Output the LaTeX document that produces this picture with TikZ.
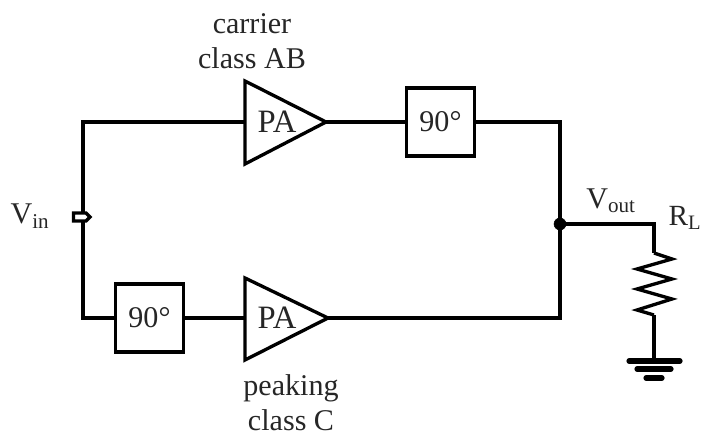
\documentclass[tikz,border=0pt]{standalone}
\usepackage{fontspec}
\setmainfont{Liberation Serif}
\usetikzlibrary{positioning}
\tikzset{
  wire/.style={black, line width=2.5pt, line join=miter},
  lbl/.style={inner sep=0pt, text=black!85, font=\fontsize{22.6pt}{26.2pt}\selectfont, align=center},
  shiftbox/.style={draw=black, line width=2.6pt, minimum width=1.79cm, minimum height=1.79cm, inner sep=0pt, lbl}
}
\begin{document}
\begin{tikzpicture}[x=0.0264cm, y=-0.0264cm]
                \useasboundingbox (0,0) rectangle (702,436);
                % amplifiers
                \draw[wire] (245,81) -- (326,122) -- (245,164) -- cycle;
                \draw[wire] (245,278) -- (328,318) -- (245,360) -- cycle;
                \coordinate (paone) at (245,122);
                \coordinate (paoneout) at (326,122);
                \coordinate (patwo) at (245,318);
                \coordinate (patwoout) at (328,318);
                \node[lbl, font=\fontsize{24.5pt}{26pt}\selectfont] (paonetext) at (277,122) {PA};
                \node[lbl, font=\fontsize{24.5pt}{26pt}\selectfont] (patwotext) at (277,318) {PA};
                % phase shifters
                \node[shiftbox] (shiftone) at (440.5,122) {90°};
                \node[shiftbox] (shifttwo) at (149.5,318) {90°};
                % input port
                \coordinate (inup) at (83,213);
                \coordinate (indown) at (83,221);
                \draw[wire] (73.5,213) -- (86,213) -- (90,217) -- (86,221) -- (73.5,221) -- cycle;
                \coordinate (joint) at (560,224);
                \coordinate (load) at (654,224);
                \coordinate (restop) at (654,253);
                \coordinate (resbot) at (654,315);
                \coordinate (gnd) at (654,360);
                % wires
                \draw[wire] (inup) |- (paone);
                \draw[wire] (indown) |- (shifttwo.west);
                \draw[wire] (shifttwo.east) -- (patwo);
                \draw[wire] (paoneout) -- (shiftone.west);
                \draw[wire] (shiftone.east) -| (joint);
                \draw[wire] (patwoout) -| (joint);
                \draw[wire] (joint) -- (load) -- (restop);
                \draw[wire] (restop) -- (672,259) -- (637,269) -- (672,279) -- (637,289) -- (672,299) -- (637,310) -- (resbot);
                \draw[wire] (resbot) -- (gnd);
                \filldraw[black] (joint) circle (6);
                % ground
                \draw[wire, line width=3.9pt, line cap=round] (629,361) -- (680,361);
                \draw[wire, line width=3.9pt, line cap=round] (637,369) -- (671,369);
                \draw[wire, line width=3.9pt, line cap=round] (646,378) -- (662,378);
                % labels
                \node[lbl] (carrier) at (252,41) {carrier\\class AB};
                \node[lbl] (peaking) at (291,403) {peaking\\class C};
                \node[lbl] (vin) at (30,216) {V\textsubscript{in}};
                \node[lbl] (vout) at (611,201) {V\textsubscript{out}};
                \node[lbl, font=\fontsize{22pt}{26pt}\selectfont] (rl) at (685,218) {R\textsubscript{L}};
\end{tikzpicture}
\end{document}
